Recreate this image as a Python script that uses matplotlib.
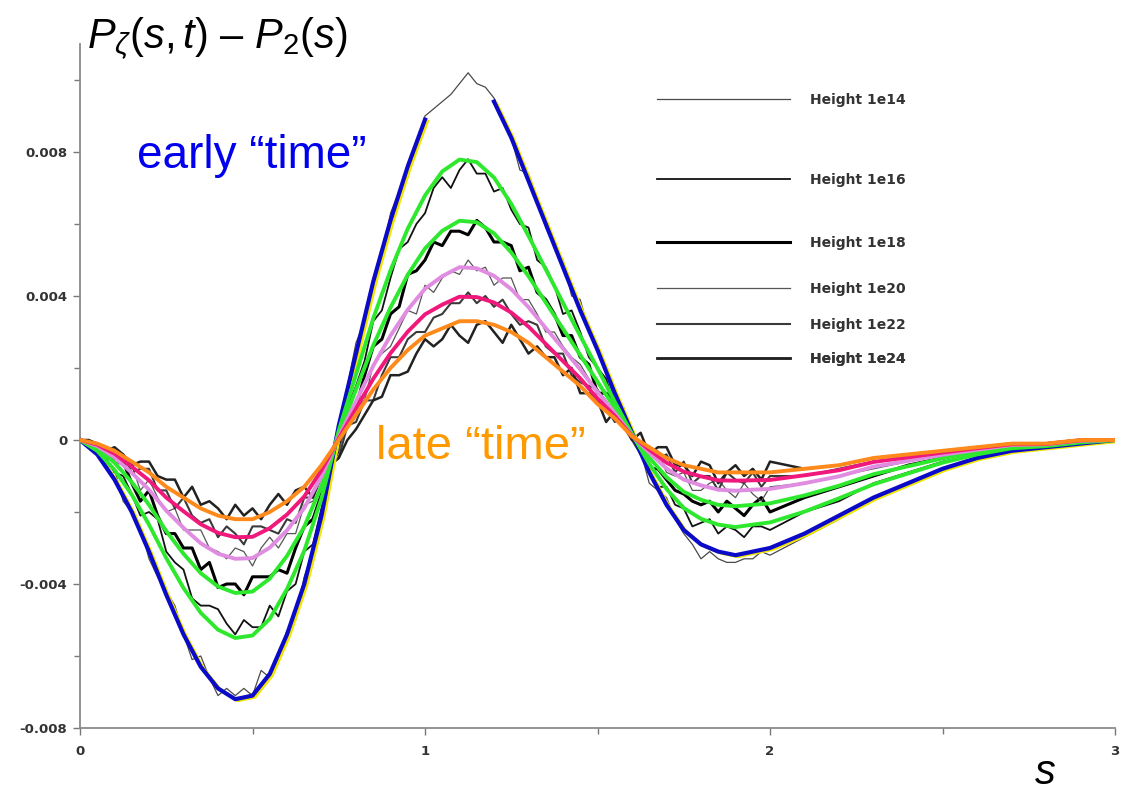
import numpy as np
import matplotlib
matplotlib.use('Agg')
import matplotlib.pyplot as plt
import matplotlib.transforms as mtransforms

plt.rcParams['mathtext.fontset'] = 'custom'
plt.rcParams['mathtext.rm'] = 'Liberation Sans'
plt.rcParams['mathtext.it'] = 'Liberation Sans:italic'
plt.rcParams['mathtext.sf'] = 'Liberation Sans'

# all curve values are in units of 1e-4
# smooth curves sampled every 0.05 up to s=2, then every 0.1
s = np.concatenate([np.arange(0, 2.01, 0.05), np.arange(2.1, 3.01, 0.1)])

blue = [0, -4, -11, -20, -31, -43, -54, -63, -69, -72,
        -71, -65, -54, -40, -21, 4, 24, 44, 61, 76,
        89, 96, 100, 99, 94, 84, 72, 60, 48, 36,
        25, 13, 2, -9, -18, -25, -29, -31, -32, -31,
        -30, -26, -21, -16, -12, -8, -5, -3, -2, -1, 0]
green1 = [0, -3.0, -8.3, -15.2, -23.5, -32.8, -41.1, -48.0, -52.7, -55.0,
          -54.3, -49.7, -41.4, -30.8, -16.2, 2.6, 18.2, 33.8, 47.1, 58.7,
          67.9, 74.6, 77.9, 77.2, 72.9, 65.6, 56.7, 47.4, 38.1, 28.9,
          19.9, 10.6, 1.7, -6.6, -13.6, -18.9, -21.9, -23.5, -24.2, -23.5,
          -22.9, -19.9, -16.2, -12.3, -9.3, -6.3, -4.0, -2.3, -1.7, -0.7, 0]
green2 = [0, -2.2, -6.3, -11.7, -18.0, -25.3, -31.6, -37.0, -40.7, -42.5,
          -42.1, -38.5, -32.2, -24.1, -12.7, 1.6, 14.0, 26.3, 36.8, 45.9,
          53.2, 58.1, 60.9, 60.5, 57.4, 52.1, 45.5, 38.2, 30.9, 23.6,
          16.2, 8.9, 1.4, -4.9, -10.3, -14.4, -16.6, -18.0, -18.4, -18.0,
          -17.6, -15.4, -12.7, -9.5, -7.3, -5.1, -3.2, -1.8, -1.4, -0.4, 0]
violet = [0, -1.7, -4.8, -9.1, -13.8, -19.6, -24.4, -28.7, -31.6, -33.0,
          -32.8, -29.9, -25.1, -18.9, -10.1, 0.9, 10.7, 20.6, 29.0, 36.2,
          42.0, 45.5, 48.0, 47.7, 45.6, 41.9, 36.9, 31.1, 25.4, 19.6,
          13.3, 7.5, 1.2, -3.5, -7.9, -11.0, -12.6, -13.8, -14.1, -13.8,
          -13.6, -12.0, -10.1, -7.4, -5.8, -4.1, -2.7, -1.4, -1.2, -0.2, 0]
magenta = [0, -1.3, -3.8, -7.4, -11.2, -16.0, -19.8, -23.4, -25.8, -27.0,
           -26.9, -24.5, -20.7, -15.7, -8.4, 0.4, 8.7, 17.0, 24.1, 30.1,
           34.9, 37.6, 39.8, 39.7, 38.2, 35.4, 31.5, 26.7, 21.9, 17.1,
           11.5, 6.7, 1.1, -2.7, -6.3, -8.8, -10.1, -11.2, -11.3, -11.2,
           -11.1, -9.8, -8.4, -6.1, -4.8, -3.5, -2.3, -1.2, -1.1, -0.1, 0]
orange = [0, -1, -3, -6, -9, -13, -16, -19, -21, -22,
          -22, -20, -17, -13, -7, 0, 7, 14, 20, 25,
          29, 31, 33, 33, 32, 30, 27, 23, 19, 15,
          10, 6, 1, -2, -5, -7, -8, -9, -9, -9,
          -9, -8, -7, -5, -4, -3, -2, -1, -1, 0, 0]

# noisy simulation curves sampled every 0.025 up to s=2, then every 0.1
s_fine = np.concatenate([np.arange(0, 2.001, 0.025), np.arange(2.1, 3.01, 0.1)])

h1e14 = [0, -2, -4, -7, -8, -17, -20, -24, -33, -38,
         -42, -46, -54, -61, -60, -66, -71, -69, -71, -69,
         -71, -64, -66, -60, -53, -50, -38, -31, -22, -7,
         2, 15, 27, 33, 44, 50, 63, 69, 73, 82,
         90, 92, 94, 96, 99, 102, 99, 98, 95, 90,
         84, 75, 74, 67, 59, 54, 50, 40, 39, 30,
         26, 19, 11, 9, 1, -3, -12, -14, -16, -22,
         -26, -29, -33, -31, -33, -34, -34, -33, -33, -31,
         -32, -27, -22, -16, -12, -8, -5, -3, -2, -1, 0]
h1e16 = [0, -1, -3, -5, -9, -10, -15, -21, -20, -22,
         -31, -34, -36, -44, -46, -46, -47, -51, -54, -50,
         -52, -52, -46, -49, -42, -40, -31, -29, -19, -9,
         -3, 9, 15, 22, 33, 36, 45, 53, 55, 60,
         63, 70, 73, 70, 75, 78, 74, 74, 69, 70,
         64, 60, 59, 50, 48, 43, 35, 36, 30, 23,
         20, 17, 9, 9, 1, -2, -8, -13, -13, -18,
         -19, -24, -23, -22, -26, -24, -25, -27, -24, -24,
         -25, -20, -17, -12, -9, -6, -4, -2, -2, -1, 0]
h1e18 = [0, -1, -2, -5, -5, -6, -12, -17, -14, -21,
         -26, -26, -30, -30, -36, -34, -41, -40, -40, -43,
         -38, -38, -38, -36, -37, -30, -24, -22, -15, -10,
         1, 6, 9, 18, 26, 28, 35, 37, 46, 47,
         50, 55, 54, 58, 58, 57, 61, 59, 55, 55,
         54, 47, 48, 41, 39, 35, 29, 29, 23, 21,
         13, 13, 11, 4, 2, -2, -8, -8, -11, -14,
         -15, -17, -18, -17, -20, -17, -19, -21, -18, -16,
         -20, -16, -13, -10, -7, -5, -3, -2, -1, 0, 0]
h1e20 = [0, -1, -2, -2, -6, -7, -7, -14, -11, -16,
         -20, -19, -25, -25, -25, -30, -31, -33, -30, -31,
         -35, -30, -27, -30, -26, -26, -18, -17, -13, -5,
         -3, 5, 9, 11, 21, 24, 26, 31, 36, 35,
         43, 41, 45, 47, 46, 50, 47, 48, 43, 45,
         45, 39, 39, 35, 30, 30, 26, 23, 21, 17,
         14, 11, 7, 6, 1, -3, -3, -3, -9, -10,
         -9, -14, -14, -12, -11, -14, -16, -12, -15, -17,
         -13, -12, -10, -8, -6, -4, -3, -1, -1, 0, 0]
h1e22 = [0, -1, -1, -4, -3, -4, -9, -8, -8, -14,
         -14, -19, -16, -21, -23, -22, -27, -24, -26, -29,
         -24, -24, -25, -26, -22, -23, -16, -16, -10, -7,
         -5, 4, 5, 11, 11, 18, 23, 23, 28, 30,
         30, 34, 35, 38, 38, 41, 38, 40, 37, 39,
         35, 32, 33, 32, 26, 24, 24, 18, 16, 15,
         14, 9, 5, 6, 0, -4, -2, -5, -4, -9,
         -6, -12, -10, -10, -14, -9, -11, -12, -9, -13,
         -10, -10, -8, -6, -5, -4, -2, -1, -1, 0, 0]
h1e24 = [0, 0, -1, -3, -2, -4, -7, -6, -6, -10,
         -11, -11, -16, -13, -18, -17, -19, -22, -18, -21,
         -19, -22, -18, -15, -18, -14, -13, -16, -10, -7,
         -5, 0, 3, 7, 11, 12, 18, 18, 19, 24,
         28, 26, 28, 32, 29, 27, 32, 33, 30, 27,
         32, 28, 24, 26, 23, 23, 18, 20, 13, 13,
         11, 5, 8, 4, 0, 2, -4, -2, -2, -7,
         -7, -10, -6, -7, -12, -9, -7, -10, -8, -11,
         -6, -8, -7, -5, -4, -3, -2, -1, -1, 0, 0]

height_labels = ['Height 1e14', 'Height 1e16', 'Height 1e18',
                 'Height 1e20', 'Height 1e22', 'Height 1e24']
yticks = [-80, -40, 0, 40, 80]
ytick_labels = ['-0.008', '-0.004', '0', '0.004', '0.008']

W, H = 1126, 793
fig = plt.figure(figsize=(W / 100, H / 100), dpi=100)
ax = fig.add_axes([80 / W, 65 / H, 1035 / W, 684 / H])

# noisy simulation runs (drawn underneath)
noisy = [h1e14, h1e16, h1e18, h1e20, h1e22, h1e24]
noisy_style = [('#4a4a4a', 0.9), ('#111111', 1.3), ('#000000', 2.2),
               ('#555555', 0.9), ('#3a3a3a', 1.5), ('#222222', 1.8)]
handles = []
for vals, (c, lw) in zip(noisy, noisy_style):
    ln, = ax.plot(s_fine, vals, color=c, lw=lw, zorder=2)
    handles.append(ln)

# the blue curve is cut off at the top, the thin run shows there
blue_cut = np.ma.masked_greater(np.array(blue, dtype=float), 95)
yellow_tr = mtransforms.offset_copy(ax.transData, fig=fig, x=2.5, y=-1.5, units='dots')
ax.plot(s, blue_cut, color='#f2e600', lw=2.2, zorder=3, transform=yellow_tr)
ax.plot(s, blue_cut, color='#0a0ac8', lw=3.0, zorder=4)
ax.plot(s, green1, color='#2ee82e', lw=2.8, zorder=5)
ax.plot(s, green2, color='#2ee82e', lw=2.8, zorder=5)
ax.plot(s, violet, color='#e08ce0', lw=2.8, zorder=5)
ax.plot(s, magenta, color='#f0187a', lw=2.8, zorder=5)
ax.plot(s, orange, color='#ff8a1c', lw=2.8, zorder=6)

ax.set_xlim(0, 3)
ax.set_ylim(-80, 110)
ax.set_xticks([0, 1, 2, 3])
ax.set_xticks([0.5, 1.5, 2.5], minor=True)
ax.set_yticks(yticks, ytick_labels)
ax.set_yticks([-60, -20, 20, 60, 100], minor=True)
for sp in ['top', 'right']:
    ax.spines[sp].set_visible(False)
for sp in ['left', 'bottom']:
    ax.spines[sp].set_color('#8a8a8a')
    ax.spines[sp].set_linewidth(1.3)
ax.tick_params(which='both', direction='out', color='#777777', width=1.0)
ax.tick_params(which='major', length=5, labelsize=9.5, labelcolor='#333333', pad=4)
ax.tick_params(which='minor', length=4)
ax.tick_params(axis='x', pad=7)
for lab in ax.get_xticklabels() + ax.get_yticklabels():
    lab.set_fontweight('bold')

# legend entries sit at uneven heights, so one small legend each
legend_y = [100, 180, 243, 289, 325, 359]
for hnd, lab, ypx in zip(handles, height_labels, legend_y):
    leg = ax.legend([hnd], [lab], loc='center left',
                    bbox_to_anchor=(657 / W, 1 - ypx / H), bbox_transform=fig.transFigure,
                    frameon=False, handlelength=9.6, handletextpad=1.4,
                    borderpad=0, borderaxespad=0,
                    prop={'family': 'DejaVu Sans', 'weight': 'bold', 'size': 10})
    for t in leg.get_texts():
        t.set_color('#333333')
    ax.add_artist(leg)

fig.text(87 / W, 1 - 48 / H, r'$P_{\zeta}(s,t)$ – $P_2(s)$', fontsize=30,
         family='Liberation Sans', va='baseline', ha='left')
fig.text(137 / W, 1 - 168 / H, 'early “time”', fontsize=33, color='#0000ee',
         family='Liberation Sans', va='baseline', ha='left')
fig.text(376 / W, 1 - 459 / H, 'late “time”', fontsize=34, color='#ff9900',
         family='Liberation Sans', va='baseline', ha='left')
fig.text(1035 / W, 1 - 784 / H, 's', fontsize=30, style='italic',
         family='Liberation Sans', va='baseline', ha='left')

fig.savefig('out.png', dpi=100)
